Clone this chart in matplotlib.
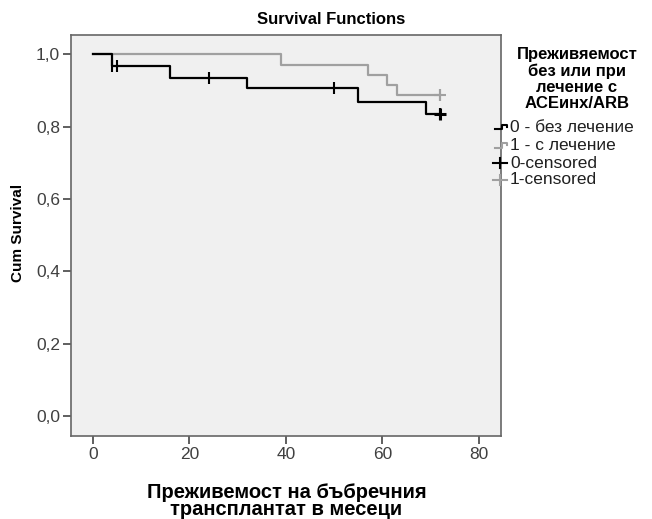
import matplotlib
matplotlib.use("Agg")
import matplotlib.pyplot as plt
from matplotlib.lines import Line2D
from matplotlib.ticker import FuncFormatter

plt.rcParams['font.family'] = ['Liberation Sans', 'DejaVu Sans']

# group 0 - без лечение (black)
times_0 = [0, 4, 16, 32, 55, 69, 72]
surv_0 = [1.0, 0.968, 0.935, 0.906, 0.867, 0.834, 0.834]
cens_t_0 = [4, 5, 24, 50, 72]
cens_s_0 = [0.968, 0.968, 0.935, 0.906, 0.834]

# group 1 - с лечение (gray)
times_1 = [0, 39, 57, 61, 63, 72]
surv_1 = [1.0, 0.970, 0.943, 0.915, 0.888, 0.888]
cens_t_1 = [72]
cens_s_1 = [0.888]

xticks = [0, 20, 40, 60, 80]
yticks = [0.0, 0.2, 0.4, 0.6, 0.8, 1.0]

legend_labels = ['0 - без лечение', '1 - с лечение', '0-censored', '1-censored']
legend_title = 'Преживяемост\nбез или при\nлечение с\nACEинх/ARB'

black = '#000000'
gray = '#a0a0a0'

W, H = 652, 519
fig = plt.figure(figsize=(W / 100, H / 100), dpi=100)


def fx(x):
    return x / W


def fy(y):
    return 1 - y / H


ax = fig.add_axes([fx(71), fy(435.7), fx(500.7) - fx(71), fy(34.7) - fy(435.7)])
ax.set_facecolor('#f0f0f0')

ax.step(times_0, surv_0, where='post', color=black, lw=1.6, zorder=3)
ax.step(times_1, surv_1, where='post', color=gray, lw=1.6, zorder=2)
ax.plot(cens_t_0, cens_s_0, ls='none', marker='|', ms=8, mew=1.5, color=black, zorder=4)
ax.plot(cens_t_1, cens_s_1, ls='none', marker='|', ms=8, mew=1.5, color=gray, zorder=4)
ax.plot(cens_t_0[-1:], cens_s_0[-1:], ls='none', marker='+', ms=9, mew=2.2, color=black, zorder=4)
ax.plot(cens_t_1, cens_s_1, ls='none', marker='+', ms=9, mew=1.5, color=gray, zorder=4)

ax.set_xlim(-4.5, 84.5)
ax.set_ylim(-0.054, 1.054)
ax.set_xticks(xticks)
ax.set_yticks(yticks)
ax.yaxis.set_major_formatter(FuncFormatter(lambda v, p: ('%.1f' % v).replace('.', ',')))
ax.tick_params(direction='out', length=6, width=1.2, color='#444444',
               labelsize=12.5, labelcolor='#404040', pad=2)
for s in ax.spines.values():
    s.set_color('#666666')
    s.set_linewidth(1.2)

fig.text(fx(331), fy(20), 'Survival Functions', ha='center', va='center',
         fontsize=12, fontweight='bold')
fig.text(fx(18), fy(233), 'Cum Survival', ha='center', va='center',
         rotation=90, fontsize=11, fontweight='bold')
fig.text(fx(286.5), fy(501), 'Преживемост на бъбречния\nтрансплантат в месеци',
         ha='center', va='center', fontsize=14.5, fontweight='bold', linespacing=0.88)

# legend
fig.text(fx(577), fy(79), legend_title, ha='center', va='center',
         fontsize=12, fontweight='bold', linespacing=1.08)

entry_y = [128, 146, 163, 180]
entry_c = [black, gray, black, gray]
for i, (lab, y, c) in enumerate(zip(legend_labels, entry_y, entry_c)):
    if i < 2:
        xs = [495, 502, 502, 507, 507]
        ys = [y + 1.5, y + 1.5, y - 3.5, y - 3.5, y - 1]
        fig.add_artist(Line2D([fx(v) for v in xs], [fy(v) for v in ys],
                              color=c, lw=1.5, transform=fig.transFigure))
    else:
        fig.add_artist(Line2D([fx(493), fx(507)], [fy(y), fy(y)],
                              color=c, lw=1.5, transform=fig.transFigure))
        fig.add_artist(Line2D([fx(500), fx(500)], [fy(y - 5), fy(y + 5)],
                              color=c, lw=1.5, transform=fig.transFigure))
    fig.text(fx(510), fy(y), lab, ha='left', va='center', fontsize=12.5, color='#202020')

fig.savefig('out.png', dpi=100, facecolor='white')
